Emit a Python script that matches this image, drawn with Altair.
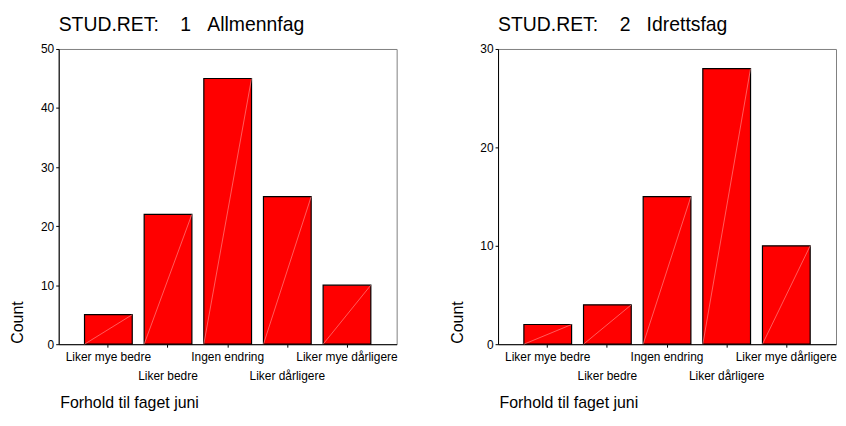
import altair as alt
import pandas as pd

categories = ["Liker mye bedre", "Liker bedre", "Ingen endring", "Liker dårligere", "Liker mye dårligere"]
allmennfag = [5, 22, 45, 25, 10]
idrettsfag = [2, 4, 15, 28, 10]
titles = ["STUD.RET:\u00a0\u00a0\u00a0\u00a01\u00a0\u00a0\u00a0Allmennfag",
          "STUD.RET:\u00a0\u00a0\u00a0\u00a02\u00a0\u00a0\u00a0Idrettsfag"]
y_max = [50, 30]
y_ticks = [[0, 10, 20, 30, 40, 50], [0, 10, 20, 30]]

FONT = "Liberation Sans"
W, H = 340, 297
PI, PO = 0.2, 0.433
band = W / (len(categories) - PI + 2 * PO) * (1 - PI)


def panel(title, values, ymax, ticks):
    df = pd.DataFrame({"cat": categories, "value": values})
    xscale = alt.Scale(domain=categories, paddingInner=PI, paddingOuter=PO)
    yscale = alt.Scale(domain=[0, ymax], nice=False)
    x = alt.X("cat:N", scale=xscale, sort=categories,
              axis=alt.Axis(
                  title="Forhold til faget juni", titleFontSize=16, titleFontWeight="normal",
                  titleAnchor="start", titleAlign="left", titleBaseline="alphabetic",
                  titleX=1, titleY=64, titleColor="black",
                  labelAngle=0, labelFontSize=12, labelColor="black", labelBaseline="top",
                  labelLineHeight=20, labelPadding=4,
                  labelExpr="(datum.label == 'Liker bedre' || datum.label == 'Liker dårligere') ? ['', datum.label] : datum.label",
                  tickSize=3, tickColor="black", domainColor="black", grid=False))
    yaxis = alt.Axis(
        values=ticks, title="Count", titleFontSize=16, titleFontWeight="normal",
        titleAngle=270, titleAlign="left", titleBaseline="middle",
        titleX=-41, titleY=296, titleColor="black",
        labelFontSize=12, labelColor="black", labelPadding=2,
        tickSize=3, tickColor="black", domainColor="black", grid=False)
    base = alt.Chart(df)
    bars = base.mark_bar(color="#ff0000", stroke="black", strokeWidth=1.2).encode(
        x=x, y=alt.Y("value:Q", scale=yscale, axis=yaxis))
    diag = base.transform_calculate(zero="0").mark_rule(
        color="#ff9a9a", strokeWidth=0.6, xOffset=-band / 2, x2Offset=band / 2
    ).encode(x=x, x2="cat:N", y=alt.Y("zero:Q", scale=yscale, axis=yaxis), y2="value:Q")
    return alt.layer(bars, diag).properties(
        width=W, height=H,
        title=alt.TitleParams(title, anchor="start", frame="group", fontSize=19.5,
                              fontWeight="normal", font=FONT, color="black", offset=7.5))


chart = alt.hconcat(
    panel(titles[0], allmennfag, y_max[0], y_ticks[0]),
    panel(titles[1], idrettsfag, y_max[1], y_ticks[1]),
    spacing=102, bounds="flush",
).properties(
    padding={"left": 1, "top": 5, "right": 0, "bottom": 0}
).configure(font=FONT).configure_view(stroke="#808080", strokeWidth=1)

chart.save("out.html", embed_options={"renderer": "svg", "actions": False})
